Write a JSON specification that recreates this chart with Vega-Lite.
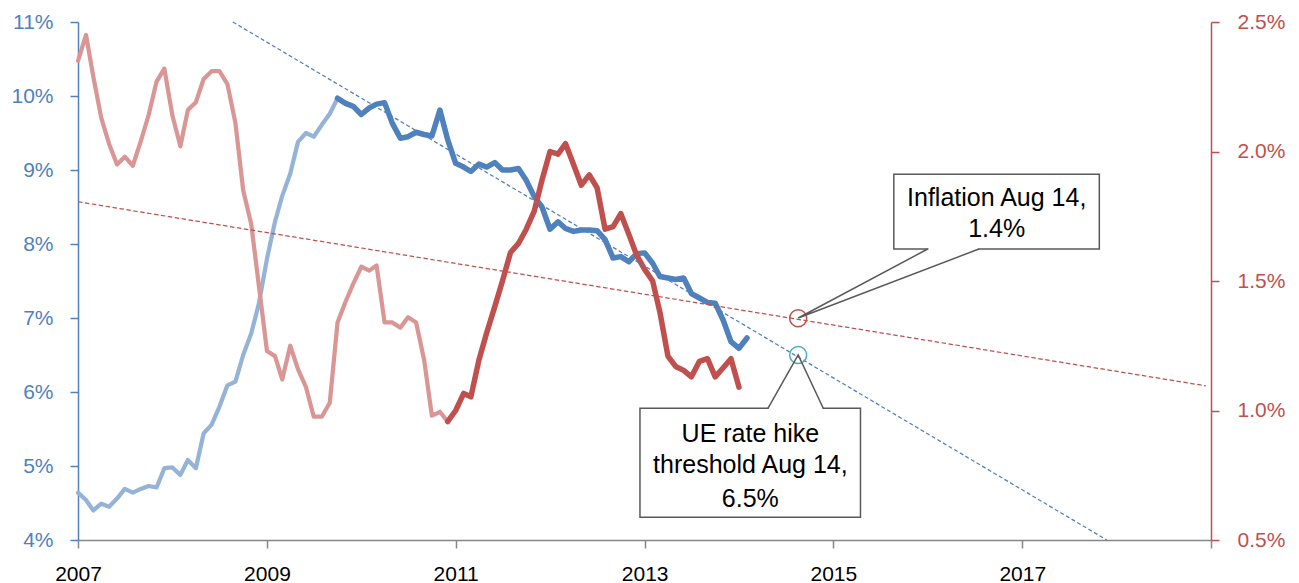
{
  "$schema": "https://vega.github.io/schema/vega-lite/v6.json",
  "width": 1133,
  "height": 518,
  "autosize": {"type": "none"},
  "padding": {"left": 78, "top": 22, "right": 88, "bottom": 43},
  "background": "white",
  "config": {"view": {"stroke": null}, "axis": {"grid": false}, "font": "Liberation Sans"},
  "datasets": {
    "ue_a": [
      {"d": "2007-01-01", "v": 4.64}, {"d": "2007-02-01", "v": 4.54}, {"d": "2007-03-01", "v": 4.40}, {"d": "2007-04-01", "v": 4.49},
      {"d": "2007-05-01", "v": 4.45}, {"d": "2007-06-01", "v": 4.56}, {"d": "2007-07-01", "v": 4.69}, {"d": "2007-08-01", "v": 4.64},
      {"d": "2007-09-01", "v": 4.69}, {"d": "2007-10-01", "v": 4.73}, {"d": "2007-11-01", "v": 4.71}, {"d": "2007-12-01", "v": 4.97},
      {"d": "2008-01-01", "v": 4.98}, {"d": "2008-02-01", "v": 4.88}, {"d": "2008-03-01", "v": 5.08}, {"d": "2008-04-01", "v": 4.97},
      {"d": "2008-05-01", "v": 5.44}, {"d": "2008-06-01", "v": 5.56}, {"d": "2008-07-01", "v": 5.80}, {"d": "2008-08-01", "v": 6.09},
      {"d": "2008-09-01", "v": 6.14}, {"d": "2008-10-01", "v": 6.50}, {"d": "2008-11-01", "v": 6.79}, {"d": "2008-12-01", "v": 7.20},
      {"d": "2009-01-01", "v": 7.80}, {"d": "2009-02-01", "v": 8.30}, {"d": "2009-03-01", "v": 8.65}, {"d": "2009-04-01", "v": 8.95},
      {"d": "2009-05-01", "v": 9.38}, {"d": "2009-06-01", "v": 9.50}, {"d": "2009-07-01", "v": 9.45}, {"d": "2009-08-01", "v": 9.61},
      {"d": "2009-09-01", "v": 9.76}, {"d": "2009-10-01", "v": 9.97}
    ],
    "ue_b": [
      {"d": "2009-10-01", "v": 9.97}, {"d": "2009-11-01", "v": 9.90}, {"d": "2009-12-01", "v": 9.86},
      {"d": "2010-01-01", "v": 9.75}, {"d": "2010-02-01", "v": 9.84}, {"d": "2010-03-01", "v": 9.89}, {"d": "2010-04-01", "v": 9.91},
      {"d": "2010-05-01", "v": 9.63}, {"d": "2010-06-01", "v": 9.43}, {"d": "2010-07-01", "v": 9.45}, {"d": "2010-08-01", "v": 9.51},
      {"d": "2010-09-01", "v": 9.48}, {"d": "2010-10-01", "v": 9.46}, {"d": "2010-11-01", "v": 9.81}, {"d": "2010-12-01", "v": 9.41},
      {"d": "2011-01-01", "v": 9.09}, {"d": "2011-02-01", "v": 9.04}, {"d": "2011-03-01", "v": 8.98}, {"d": "2011-04-01", "v": 9.08},
      {"d": "2011-05-01", "v": 9.04}, {"d": "2011-06-01", "v": 9.10}, {"d": "2011-07-01", "v": 9.00}, {"d": "2011-08-01", "v": 9.00},
      {"d": "2011-09-01", "v": 9.02}, {"d": "2011-10-01", "v": 8.86}, {"d": "2011-11-01", "v": 8.64}, {"d": "2011-12-01", "v": 8.50},
      {"d": "2012-01-01", "v": 8.20}, {"d": "2012-02-01", "v": 8.30}, {"d": "2012-03-01", "v": 8.21}, {"d": "2012-04-01", "v": 8.17},
      {"d": "2012-05-01", "v": 8.19}, {"d": "2012-06-01", "v": 8.19}, {"d": "2012-07-01", "v": 8.18}, {"d": "2012-08-01", "v": 8.06},
      {"d": "2012-09-01", "v": 7.81}, {"d": "2012-10-01", "v": 7.83}, {"d": "2012-11-01", "v": 7.76}, {"d": "2012-12-01", "v": 7.87},
      {"d": "2013-01-01", "v": 7.88}, {"d": "2013-02-01", "v": 7.74}, {"d": "2013-03-01", "v": 7.56}, {"d": "2013-04-01", "v": 7.54},
      {"d": "2013-05-01", "v": 7.52}, {"d": "2013-06-01", "v": 7.54}, {"d": "2013-07-01", "v": 7.33}, {"d": "2013-08-01", "v": 7.27},
      {"d": "2013-09-01", "v": 7.21}, {"d": "2013-10-01", "v": 7.20}, {"d": "2013-11-01", "v": 6.97}, {"d": "2013-12-01", "v": 6.68},
      {"d": "2014-01-01", "v": 6.59}, {"d": "2014-02-01", "v": 6.73}
    ],
    "inf_a": [
      {"d": "2007-01-01", "v": 2.35}, {"d": "2007-02-01", "v": 2.45}, {"d": "2007-03-01", "v": 2.29}, {"d": "2007-04-01", "v": 2.13},
      {"d": "2007-05-01", "v": 2.03}, {"d": "2007-06-01", "v": 1.95}, {"d": "2007-07-01", "v": 1.98}, {"d": "2007-08-01", "v": 1.945},
      {"d": "2007-09-01", "v": 2.04}, {"d": "2007-10-01", "v": 2.14}, {"d": "2007-11-01", "v": 2.27}, {"d": "2007-12-01", "v": 2.32},
      {"d": "2008-01-01", "v": 2.14}, {"d": "2008-02-01", "v": 2.02}, {"d": "2008-03-01", "v": 2.16}, {"d": "2008-04-01", "v": 2.19},
      {"d": "2008-05-01", "v": 2.28}, {"d": "2008-06-01", "v": 2.31}, {"d": "2008-07-01", "v": 2.31}, {"d": "2008-08-01", "v": 2.26},
      {"d": "2008-09-01", "v": 2.11}, {"d": "2008-10-01", "v": 1.85}, {"d": "2008-11-01", "v": 1.72}, {"d": "2008-12-01", "v": 1.48},
      {"d": "2009-01-01", "v": 1.23}, {"d": "2009-02-01", "v": 1.21}, {"d": "2009-03-01", "v": 1.12}, {"d": "2009-04-01", "v": 1.25},
      {"d": "2009-05-01", "v": 1.16}, {"d": "2009-06-01", "v": 1.09}, {"d": "2009-07-01", "v": 0.976}, {"d": "2009-08-01", "v": 0.976},
      {"d": "2009-09-01", "v": 1.03}, {"d": "2009-10-01", "v": 1.34}, {"d": "2009-11-01", "v": 1.42}, {"d": "2009-12-01", "v": 1.49},
      {"d": "2010-01-01", "v": 1.555}, {"d": "2010-02-01", "v": 1.54}, {"d": "2010-03-01", "v": 1.56}, {"d": "2010-04-01", "v": 1.34},
      {"d": "2010-05-01", "v": 1.34}, {"d": "2010-06-01", "v": 1.32}, {"d": "2010-07-01", "v": 1.36}, {"d": "2010-08-01", "v": 1.34},
      {"d": "2010-09-01", "v": 1.195}, {"d": "2010-10-01", "v": 0.98}, {"d": "2010-11-01", "v": 0.995}, {"d": "2010-12-01", "v": 0.957}
    ],
    "inf_b": [
      {"d": "2010-12-01", "v": 0.957},
      {"d": "2011-01-01", "v": 1.0}, {"d": "2011-02-01", "v": 1.066}, {"d": "2011-03-01", "v": 1.053}, {"d": "2011-04-01", "v": 1.195},
      {"d": "2011-05-01", "v": 1.30}, {"d": "2011-06-01", "v": 1.40}, {"d": "2011-07-01", "v": 1.50}, {"d": "2011-08-01", "v": 1.61},
      {"d": "2011-09-01", "v": 1.645}, {"d": "2011-10-01", "v": 1.70}, {"d": "2011-11-01", "v": 1.77}, {"d": "2011-12-01", "v": 1.89},
      {"d": "2012-01-01", "v": 2.0}, {"d": "2012-02-01", "v": 1.99}, {"d": "2012-03-01", "v": 2.03}, {"d": "2012-04-01", "v": 1.95},
      {"d": "2012-05-01", "v": 1.87}, {"d": "2012-06-01", "v": 1.91}, {"d": "2012-07-01", "v": 1.86}, {"d": "2012-08-01", "v": 1.70},
      {"d": "2012-09-01", "v": 1.71}, {"d": "2012-10-01", "v": 1.76}, {"d": "2012-11-01", "v": 1.68}, {"d": "2012-12-01", "v": 1.60},
      {"d": "2013-01-01", "v": 1.545}, {"d": "2013-02-01", "v": 1.50}, {"d": "2013-03-01", "v": 1.38}, {"d": "2013-04-01", "v": 1.21},
      {"d": "2013-05-01", "v": 1.17}, {"d": "2013-06-01", "v": 1.155}, {"d": "2013-07-01", "v": 1.13}, {"d": "2013-08-01", "v": 1.19},
      {"d": "2013-09-01", "v": 1.20}, {"d": "2013-10-01", "v": 1.13}, {"d": "2013-11-01", "v": 1.165}, {"d": "2013-12-01", "v": 1.20},
      {"d": "2014-01-01", "v": 1.09}
    ],
    "ue_trend": [{"d": "2008-08-22", "v": 11.0}, {"d": "2017-11-24", "v": 4.0}],
    "inf_trend": [{"d": "2007-01-01", "v": 1.806}, {"d": "2018-12-12", "v": 1.095}],
    "inf_pt": [{"d": "2014-08-18", "v": 1.356}],
    "ue_pt": [{"d": "2014-08-18", "v": 6.5}],
    "boxes": [
      {"d": "2015-08-23", "d2": "2017-10-26", "v": 8.942, "v2": 7.932},
      {"d": "2012-12-14", "d2": "2015-04-16", "v": 5.78, "v2": 4.307}
    ],
    "gaps": [
      {"g": "a", "d": "2016-01-04", "v": 7.932}, {"g": "a", "d": "2016-07-14", "v": 7.932},
      {"g": "b", "d": "2014-04-26", "v": 5.78}, {"g": "b", "d": "2014-11-20", "v": 5.78}
    ],
    "pointers": [
      {"g": "a", "o": 1, "d": "2016-01-01", "v": 7.932}, {"g": "a", "o": 2, "d": "2014-08-18", "v": 7.0}, {"g": "a", "o": 3, "d": "2016-07-17", "v": 7.932},
      {"g": "b", "o": 1, "d": "2014-04-23", "v": 5.78}, {"g": "b", "o": 2, "d": "2014-08-18", "v": 6.5}, {"g": "b", "o": 3, "d": "2014-11-23", "v": 5.78}
    ],
    "labels": [
      {"d": "2016-09-24", "v": 8.514, "t": "Inflation Aug 14,"},
      {"d": "2016-09-24", "v": 8.09, "t": "1.4%"},
      {"d": "2014-02-14", "v": 5.33, "t": "UE rate hike"},
      {"d": "2014-02-14", "v": 4.91, "t": "threshold Aug 14,"},
      {"d": "2014-02-14", "v": 4.45, "t": "6.5%"}
    ]
  },
  "encoding": {
    "x": {
      "field": "d",
      "type": "temporal",
      "scale": {"type": "utc", "domain": [{"year": 2007, "utc": true}, {"year": 2019, "utc": true}]},
      "axis": {
        "title": null,
        "values": [{"year": 2007, "utc": true}, {"year": 2009, "utc": true}, {"year": 2011, "utc": true}, {"year": 2013, "utc": true}, {"year": 2015, "utc": true}, {"year": 2017, "utc": true}, {"year": 2019, "utc": true}],
        "labelExpr": "utcyear(datum.value) == 2019 ? '' : utcFormat(datum.value, '%Y')",
        "domainColor": "#868686",
        "domainWidth": 1.5,
        "tickColor": "#868686",
        "tickWidth": 1.5,
        "tickSize": 8,
        "labelColor": "#000000",
        "labelFontSize": 21,
        "labelPadding": 15,
        "labelFlush": false,
        "labelOverlap": false
      }
    }
  },
  "layer": [
    {
      "data": {"name": "ue_a"},
      "mark": {"type": "line", "color": "#95b3d7", "strokeWidth": 4.25, "strokeJoin": "round", "strokeCap": "round"},
      "encoding": {
        "y": {
          "field": "v", "type": "quantitative",
          "scale": {"domain": [4, 11], "nice": false, "zero": false},
          "axis": {
            "orient": "left", "title": null, "values": [4, 5, 6, 7, 8, 9, 10, 11],
            "labelExpr": "datum.value + '%'",
            "domainColor": "#4f81bd", "domainWidth": 1.5, "tickColor": "#4f81bd", "tickWidth": 1.5, "tickSize": 8,
            "labelColor": "#4f81bd", "labelFontSize": 21, "labelPadding": 17, "labelFlush": false
          }
        }
      }
    },
    {
      "data": {"name": "inf_a"},
      "mark": {"type": "line", "color": "#d99694", "strokeWidth": 4.25, "strokeJoin": "round", "strokeCap": "round"},
      "encoding": {
        "y": {
          "field": "v", "type": "quantitative",
          "scale": {"domain": [0.5, 2.5], "nice": false, "zero": false},
          "axis": {
            "orient": "right", "title": null, "values": [0.5, 1, 1.5, 2, 2.5],
            "labelExpr": "format(datum.value, '.1f') + '%'",
            "domainColor": "#c0504d", "domainWidth": 1.5, "tickColor": "#c0504d", "tickWidth": 1.5, "tickSize": 8,
            "labelColor": "#c0504d", "labelFontSize": 21, "labelPadding": 18, "labelFlush": false
          }
        }
      }
    },
    {
      "data": {"name": "ue_b"},
      "mark": {"type": "line", "color": "#4f81bd", "strokeWidth": 5.5, "strokeJoin": "round", "strokeCap": "round"},
      "encoding": {"y": {"field": "v", "type": "quantitative", "scale": {"domain": [4, 11], "nice": false, "zero": false}, "axis": null}}
    },
    {
      "data": {"name": "inf_b"},
      "mark": {"type": "line", "color": "#c0504d", "strokeWidth": 5.5, "strokeJoin": "round", "strokeCap": "round"},
      "encoding": {"y": {"field": "v", "type": "quantitative", "scale": {"domain": [0.5, 2.5], "nice": false, "zero": false}, "axis": null}}
    },
    {
      "data": {"name": "ue_trend"},
      "mark": {"type": "line", "color": "#4f81bd", "strokeWidth": 1.25, "strokeDash": [4, 2.5]},
      "encoding": {"y": {"field": "v", "type": "quantitative", "scale": {"domain": [4, 11], "nice": false, "zero": false}, "axis": null}}
    },
    {
      "data": {"name": "inf_trend"},
      "mark": {"type": "line", "color": "#c0504d", "strokeWidth": 1.25, "strokeDash": [4.5, 2.5]},
      "encoding": {"y": {"field": "v", "type": "quantitative", "scale": {"domain": [0.5, 2.5], "nice": false, "zero": false}, "axis": null}}
    },
    {
      "data": {"name": "inf_pt"},
      "mark": {"type": "point", "shape": "circle", "filled": false, "size": 290, "strokeWidth": 1.5, "color": "#c0504d", "opacity": 1},
      "encoding": {"y": {"field": "v", "type": "quantitative", "scale": {"domain": [0.5, 2.5], "nice": false, "zero": false}, "axis": null}}
    },
    {
      "data": {"name": "ue_pt"},
      "mark": {"type": "point", "shape": "circle", "filled": false, "size": 290, "strokeWidth": 1.5, "color": "#4bacc6", "opacity": 1},
      "encoding": {"y": {"field": "v", "type": "quantitative", "scale": {"domain": [4, 11], "nice": false, "zero": false}, "axis": null}}
    },
    {
      "data": {"name": "boxes"},
      "mark": {"type": "rect", "fill": "#ffffff", "stroke": "#595959", "strokeWidth": 1.5},
      "encoding": {
        "x2": {"field": "d2"},
        "y": {"field": "v", "type": "quantitative", "scale": {"domain": [4, 11], "nice": false, "zero": false}, "axis": null},
        "y2": {"field": "v2"}
      }
    },
    {
      "data": {"name": "gaps"},
      "mark": {"type": "line", "color": "#ffffff", "strokeWidth": 3},
      "encoding": {
        "y": {"field": "v", "type": "quantitative", "scale": {"domain": [4, 11], "nice": false, "zero": false}, "axis": null},
        "detail": {"field": "g"}
      }
    },
    {
      "data": {"name": "pointers"},
      "mark": {"type": "line", "color": "#595959", "strokeWidth": 1.5},
      "encoding": {
        "y": {"field": "v", "type": "quantitative", "scale": {"domain": [4, 11], "nice": false, "zero": false}, "axis": null},
        "detail": {"field": "g"},
        "order": {"field": "o", "type": "quantitative"}
      }
    },
    {
      "data": {"name": "labels"},
      "mark": {"type": "text", "align": "center", "baseline": "alphabetic", "fontSize": 25, "color": "#000000", "font": "Liberation Sans"},
      "encoding": {
        "y": {"field": "v", "type": "quantitative", "scale": {"domain": [4, 11], "nice": false, "zero": false}, "axis": null},
        "text": {"field": "t"}
      }
    }
  ],
  "resolve": {"scale": {"y": "independent"}}
}
